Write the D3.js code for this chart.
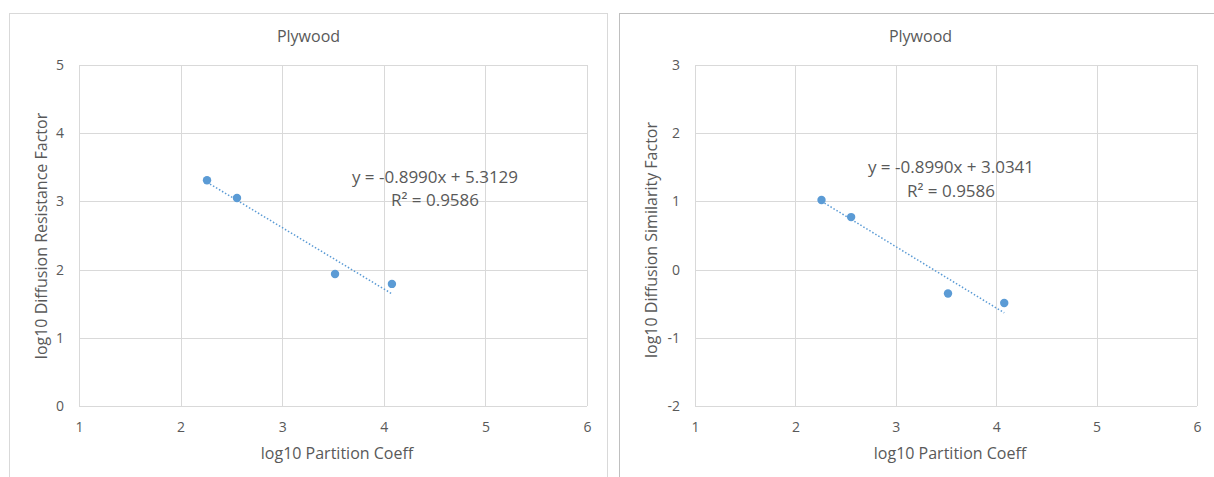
<!DOCTYPE html>
<html><head><meta charset="utf-8">
<script src="https://cdn.jsdelivr.net/npm/d3@7"></script>
<style>body{margin:0;background:#fff;}svg{display:block;font-family:"Open Sans","Noto Sans",sans-serif;}</style>
</head><body>
<svg id="c" width="1214" height="477"></svg>
<script>
const partitionCoeff = [2.26, 2.555, 3.52, 4.08];
const resistanceFactor = [3.31, 3.05, 1.935, 1.79];
const similarityFactor = [1.02, 0.77, -0.35, -0.49];
const xTicks = [1, 2, 3, 4, 5, 6];
const yTicksLeft = [0, 1, 2, 3, 4, 5];
const yTicksRight = [-2, -1, 0, 1, 2, 3];
const fitSlope = [-0.8990, -0.8990];
const fitIntercept = [5.3129, 3.0341];
const fitR2 = [0.9586, 0.9586];
const titles = ["Plywood", "Plywood"];
const yTitles = ["log10 Diffusion Resistance Factor", "log10 Diffusion Similarity Factor"];
const xTitle = "log10 Partition Coeff";

const svg = d3.select("#c");
const txt = "#595959", grid = "#d9d9d9", pt = "#5b9bd5";

const panels = [
  {bx:9.5, bw:598, px:[79,587], py:[406,65], yDom:[0,5], yTicks:yTicksLeft, ys:resistanceFactor,
   yTitleX:41, yTitleY:236, eq:[435,183], r2:[435,206], borderColor:"#d9d9d9"},
  {bx:619.5, bw:602, px:[695,1197], py:[406,65], yDom:[-2,3], yTicks:yTicksRight, ys:similarityFactor,
   yTitleX:651, yTitleY:240, eq:[951,173], r2:[951,197], borderColor:"#bfbfbf"}
];

panels.forEach((p, i) => {
  const g = svg.append("g");
  g.append("rect").attr("x", p.bx).attr("y", 13.5).attr("width", p.bw).attr("height", 480)
    .attr("fill", "#fff").attr("stroke", p.borderColor).attr("stroke-width", 1);
  const x = d3.scaleLinear().domain([1, 6]).range(p.px);
  const y = d3.scaleLinear().domain(p.yDom).range(p.py);

  // gridlines
  g.append("g").selectAll("line").data(xTicks).join("line")
    .attr("x1", d => Math.round(x(d)) + 0.5).attr("x2", d => Math.round(x(d)) + 0.5)
    .attr("y1", p.py[1]).attr("y2", p.py[0]).attr("stroke", grid);
  g.append("g").selectAll("line").data(p.yTicks).join("line")
    .attr("x1", p.px[0]).attr("x2", p.px[1])
    .attr("y1", d => Math.round(y(d)) + 0.5).attr("y2", d => Math.round(y(d)) + 0.5).attr("stroke", grid);

  // axes via d3 (labels only)
  const xa = g.append("g").attr("transform", `translate(0,${p.py[0]})`)
    .call(d3.axisBottom(x).tickValues(xTicks).tickFormat(d => String(d)).tickSize(0).tickPadding(16));
  const ya = g.append("g").attr("transform", `translate(${p.px[0]},0)`)
    .call(d3.axisLeft(y).tickValues(p.yTicks).tickFormat(d => String(d)).tickSize(0).tickPadding(15));
  [xa, ya].forEach(a => {
    a.select(".domain").remove();
    a.selectAll("text").attr("fill", txt).style("font-size", "14px").style("font-family", '"Open Sans",sans-serif');
  });

  // title
  g.append("text").attr("x", p.bx + p.bw / 2).attr("y", 42).attr("text-anchor", "middle")
    .attr("fill", txt).style("font-size", "16px").text(titles[i]);
  // x title
  g.append("text").attr("x", (p.px[0] + p.px[1]) / 2 + 4).attr("y", 459).attr("text-anchor", "middle")
    .attr("fill", txt).style("font-size", "16px").text(xTitle);
  // y title
  g.append("text").attr("transform", `translate(${p.yTitleX},${p.yTitleY}) rotate(-90)`)
    .attr("text-anchor", "middle").attr("dy", "0.35em").attr("fill", txt).style("font-size", "16px").text(yTitles[i]);

  // trendline
  const xmin = d3.min(partitionCoeff), xmax = d3.max(partitionCoeff);
  g.append("line").attr("x1", x(xmin)).attr("y1", y(fitSlope[i] * xmin + fitIntercept[i]))
    .attr("x2", x(xmax)).attr("y2", y(fitSlope[i] * xmax + fitIntercept[i]))
    .attr("stroke", pt).attr("stroke-width", 1.5).attr("stroke-dasharray", "1.5,2");

  // points
  g.append("g").selectAll("circle").data(partitionCoeff).join("circle")
    .attr("cx", d => x(d)).attr("cy", (d, j) => y(p.ys[j])).attr("r", 4.2).attr("fill", pt);

  // equation
  const f4 = v => v.toFixed(4);
  g.append("text").attr("x", p.eq[0]).attr("y", p.eq[1]).attr("text-anchor", "middle")
    .attr("fill", txt).style("font-size", "17px").text(`y = ${f4(fitSlope[i])}x + ${f4(fitIntercept[i])}`);
  g.append("text").attr("x", p.r2[0]).attr("y", p.r2[1]).attr("text-anchor", "middle")
    .attr("fill", txt).style("font-size", "17px").text(`R² = ${f4(fitR2[i])}`);
});
</script>
</body></html>
